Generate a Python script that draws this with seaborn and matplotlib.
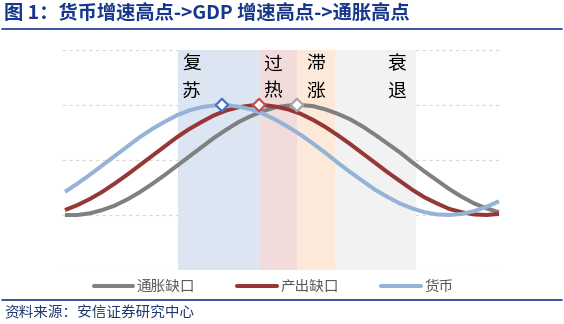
import matplotlib
matplotlib.use("Agg")
import matplotlib.pyplot as plt
import seaborn as sns
import pandas as pd
from matplotlib.lines import Line2D

# ---------------- data ----------------
x = list(range(36))
inflation_gap = [1.00, 1.00, 1.03, 1.09, 1.17, 1.28, 1.41, 1.56, 1.72, 1.89,
                 2.06, 2.23, 2.40, 2.55, 2.69, 2.80, 2.89, 2.96, 2.99, 3.00,
                 2.98, 2.92, 2.84, 2.74, 2.61, 2.46, 2.30, 2.14, 1.96, 1.79,
                 1.63, 1.47, 1.33, 1.21, 1.12, 1.05]
output_gap = [1.09, 1.18, 1.29, 1.42, 1.57, 1.73, 1.90, 2.07, 2.24, 2.41,
              2.56, 2.69, 2.81, 2.90, 2.96, 2.99, 3.00, 2.97, 2.92, 2.84,
              2.73, 2.60, 2.45, 2.29, 2.12, 1.95, 1.78, 1.62, 1.46, 1.32,
              1.21, 1.11, 1.05, 1.01, 1.00, 1.02]
money = [1.42, 1.57, 1.73, 1.90, 2.07, 2.24, 2.41, 2.56, 2.69, 2.81,
         2.90, 2.96, 2.99, 3.00, 2.97, 2.92, 2.84, 2.73, 2.60, 2.46,
         2.30, 2.13, 1.95, 1.78, 1.62, 1.46, 1.33, 1.21, 1.12, 1.05,
         1.01, 1.00, 1.02, 1.07, 1.15, 1.25]

series_names = ["通胀缺口", "产出缺口", "货币"]
series_colors = ["#808080", "#953735", "#95B3D7"]
peak_x = [18.71, 15.65, 12.66]
peak_y = [3.0, 3.0, 3.0]
peak_edge = ["#A6A6A6", "#C0504D", "#4472C4"]

phase_labels = ["复\n苏", "过\n热", "滞\n涨", "衰\n退"]
phase_bounds = [9.11, 15.73, 18.71, 21.77, 28.31]
phase_colors = ["#DCE6F2", "#F2DCDB", "#FDE9D9", "#F2F2F2"]
phase_label_x = [9.45, 15.97, 19.45, 25.97]

title = "图 1：货币增速高点->GDP 增速高点->通胀高点"
source = "资料来源：安信证券研究中心"

# ---------------- style ----------------
sns.set_theme(style="white")
plt.rcParams["font.family"] = ["Noto Sans CJK SC", "DejaVu Sans"]

W, H = 564, 324
fig = plt.figure(figsize=(W / 100, H / 100), dpi=100)
ax = fig.add_axes([62 / W, 1 - 270 / H, 438 / W, 220 / H])

df = pd.DataFrame({"x": x, series_names[0]: inflation_gap,
                   series_names[1]: output_gap, series_names[2]: money})
long = df.melt("x", var_name="series", value_name="value")

# phase shading
for i in range(4):
    ax.axvspan(phase_bounds[i], phase_bounds[i + 1], color=phase_colors[i],
               lw=0, zorder=1)
    ax.text(phase_label_x[i], 3.50, phase_labels[i], ha="left", va="center",
            fontsize=13.5, color="black", linespacing=1.4, zorder=2)

sns.lineplot(data=long, x="x", y="value", hue="series", hue_order=series_names,
             palette=dict(zip(series_names, series_colors)), lw=2.9,
             legend=False, ax=ax, zorder=3)
for line in ax.lines:
    line.set_solid_capstyle("butt")
    line.set_solid_joinstyle("round")

sns.scatterplot(x=peak_x, y=peak_y, marker="D", s=40, color="white",
                edgecolor=peak_edge, linewidth=1.6, ax=ax, zorder=5)

ax.set_xlim(-0.24, 35.08)
ax.set_ylim(0, 4)
ax.set_yticks([0, 1, 2, 3, 4])
ax.set_xticks([])
ax.yaxis.grid(True, color="#D9D9D9", linestyle=(0, (3, 3)), lw=0.8, zorder=0)
ax.set_axisbelow(True)
ax.tick_params(left=False, bottom=False, labelleft=False, labelbottom=False)
ax.set_xlabel("")
ax.set_ylabel("")
for s in ax.spines.values():
    s.set_visible(False)

# legend
handles = [Line2D([], [], color=c, lw=2.9) for c in series_colors]
fig.legend(handles, series_names, loc="center", bbox_to_anchor=(0.485, 1 - 287 / H),
           ncol=3, frameon=False, handlelength=2.7, handletextpad=0.25,
           columnspacing=2.9, fontsize=10.5, labelcolor="#595959")

# title / footer
navy = "#17378C"
fig.text(4 / W, 1 - 14 / H, title, ha="left", va="center", fontsize=13.9,
         fontweight="bold", color=navy)
fig.add_artist(Line2D([2 / W, 562 / W], [1 - 29 / H] * 2, color=navy, lw=1.2))
fig.add_artist(Line2D([2 / W, 562 / W], [1 - 300 / H] * 2, color=navy, lw=1.2))
fig.text(4 / W, 1 - 313 / H, source, ha="left", va="center", fontsize=10.5,
         style="italic", color="#1F3A6E")

fig.savefig("out.png", dpi=100)
